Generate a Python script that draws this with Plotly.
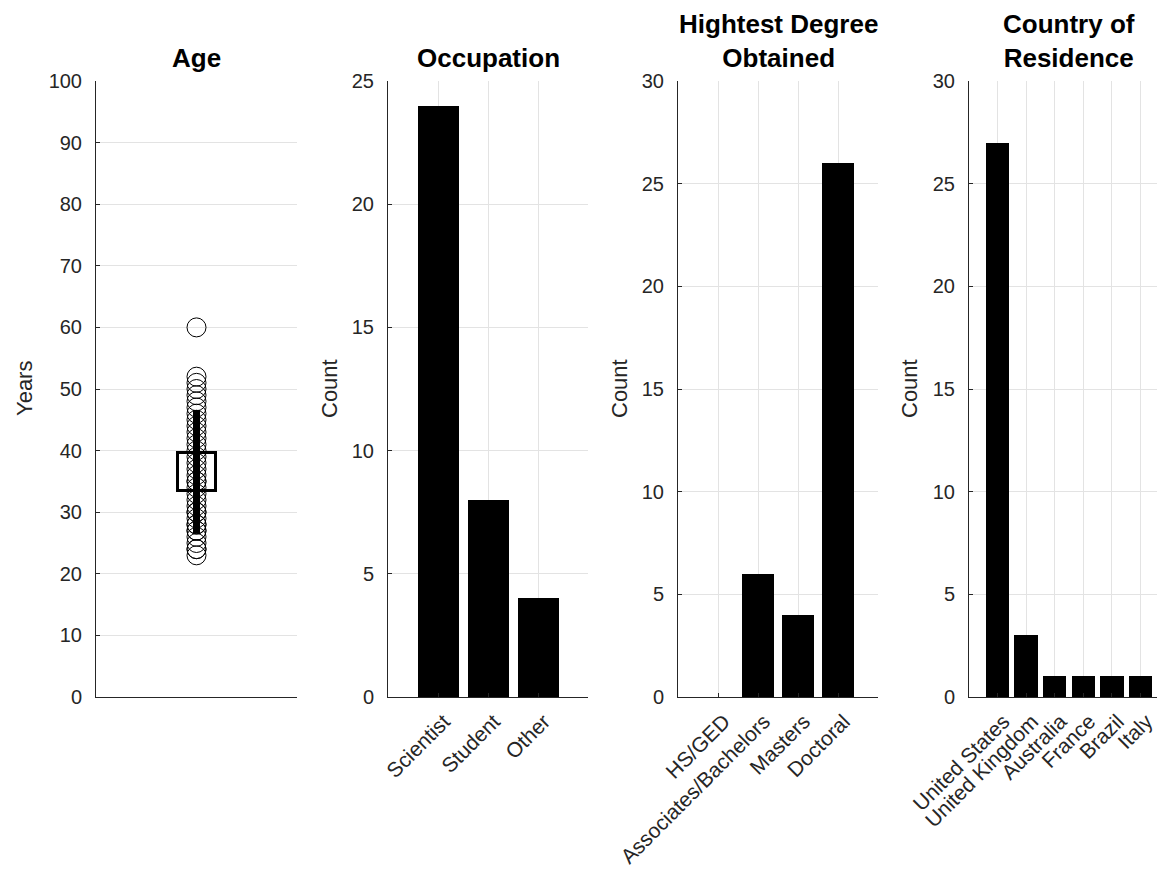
import plotly.graph_objects as go

W, H = 1165, 877
OFF = 8  # page body margin offset

# ---------------- data ----------------
ages = [60, 52, 51, 50, 49, 48, 47, 46, 45, 44, 43, 42, 41, 40, 39, 38, 37, 36,
        35, 35, 34, 33, 32, 31, 30, 30, 29, 28, 28, 27, 27, 26, 25, 24, 24, 23]
age_mean = 36.6
age_sd = 10.0

occupation = ["Scientist", "Student", "Other"]
occupation_counts = [24, 8, 4]

degree = ["HS/GED", "Associates/Bachelors", "Masters", "Doctoral"]
degree_counts = [0, 6, 4, 26]

country = ["United States", "United Kingdom", "Australia", "France", "Brazil", "Italy"]
country_counts = [27, 3, 1, 1, 1, 1]

titles = ["Age", "Occupation", "Hightest Degree<br>Obtained", "Country of<br>Residence"]
ylabels = ["Years", "Count", "Count", "Count"]

# ---------------- layout helpers ----------------
FONT = "Liberation Sans, Arial, Helvetica, sans-serif"
TXT = "#262626"
GRID = "#e3e3e3"

def px_x(p):
    return (p - OFF) / W

def px_y(p):
    return 1 - (p - OFF) / H

top_px, bot_px = 81, 697
ydom = [px_y(bot_px), px_y(top_px)]
panels_px = [(96, 297), (388, 588), (678, 878), (969, 1169)]
xdoms = [[px_x(a), min(1.0, px_x(b))] for a, b in panels_px]

fig = go.Figure()

# Panel 1: age
fig.add_trace(go.Scatter(
    x=[0] * len(ages), y=ages, mode="markers", xaxis="x", yaxis="y",
    marker=dict(symbol="circle-open", size=19, color="black", line=dict(width=1, color="black")),
    showlegend=False, hoverinfo="y"))
fig.add_trace(go.Scatter(
    x=[0, 0], y=[age_mean - age_sd, age_mean + age_sd], mode="lines", xaxis="x", yaxis="y",
    line=dict(color="black", width=7), showlegend=False))
fig.add_trace(go.Scatter(
    x=[0], y=[age_mean], mode="markers", xaxis="x", yaxis="y",
    marker=dict(symbol="square-open", size=38, color="black", line=dict(width=3, color="black")),
    showlegend=False))

bar_sets = [(occupation, occupation_counts), (degree, degree_counts), (country, country_counts)]
for i, (cats, vals) in enumerate(bar_sets, start=2):
    fig.add_trace(go.Bar(
        x=cats, y=vals, xaxis=f"x{i}", yaxis=f"y{i}", width=0.82,
        marker=dict(color="black", line=dict(width=0)), showlegend=False))

yranges = [(0, 100, 10), (0, 25, 5), (0, 30, 5), (0, 30, 5)]

layout = dict(
    width=W, height=H, margin=dict(l=0, r=0, t=0, b=0, autoexpand=False),
    paper_bgcolor="white", plot_bgcolor="white",
    font=dict(family=FONT, size=20, color=TXT),
    bargap=0, showlegend=False,
)

for i in range(4):
    sx = "" if i == 0 else str(i + 1)
    lo, hi, step = yranges[i]
    ax = dict(domain=xdoms[i], anchor=f"y{sx}", showline=True, linecolor=TXT, linewidth=1,
              zeroline=False, automargin=False,
              tickfont=dict(size=21, color=TXT, family=FONT))
    if i == 0:
        ax.update(range=[-1, 1], showticklabels=False, ticks="", showgrid=False)
    else:
        n = len(bar_sets[i - 1][0])
        ax.update(type="category", categoryorder="array", categoryarray=bar_sets[i - 1][0],
                  range=[-1, n], tickangle=-45, ticks="inside", ticklen=4,
                  tickcolor=TXT, showgrid=True, gridcolor=GRID, gridwidth=1,
                  ticklabelshift=6, ticklabelstandoff=3)
    layout[f"xaxis{sx}"] = ax
    layout[f"yaxis{sx}"] = dict(
        domain=ydom, anchor=f"x{sx}", range=[lo, hi], dtick=step, tick0=0,
        showline=True, linecolor=TXT, linewidth=1, ticks="inside", ticklen=4, tickcolor=TXT,
        showgrid=True, gridcolor=GRID, gridwidth=1, zeroline=False, automargin=False,
        ticklabelstandoff=9, tickfont=dict(size=20, color=TXT, family=FONT))

fig.update_layout(**layout)

# titles and axis labels
centers = [(a + b) / 2 for a, b in panels_px]
ylab_x = [25, 330, 620, 910]
for i in range(4):
    fig.add_annotation(text=f"<b>{titles[i]}</b>", x=px_x(centers[i]), y=px_y(75),
                       xref="paper", yref="paper", xanchor="center", yanchor="bottom",
                       showarrow=False, font=dict(size=26, color="black", family=FONT))
    fig.add_annotation(text=ylabels[i], x=px_x(ylab_x[i]), y=px_y((top_px + bot_px) / 2),
                       xref="paper", yref="paper", xanchor="center", yanchor="middle",
                       textangle=-90, showarrow=False,
                       font=dict(size=22, color=TXT, family=FONT))

fig.write_html("out.html")
